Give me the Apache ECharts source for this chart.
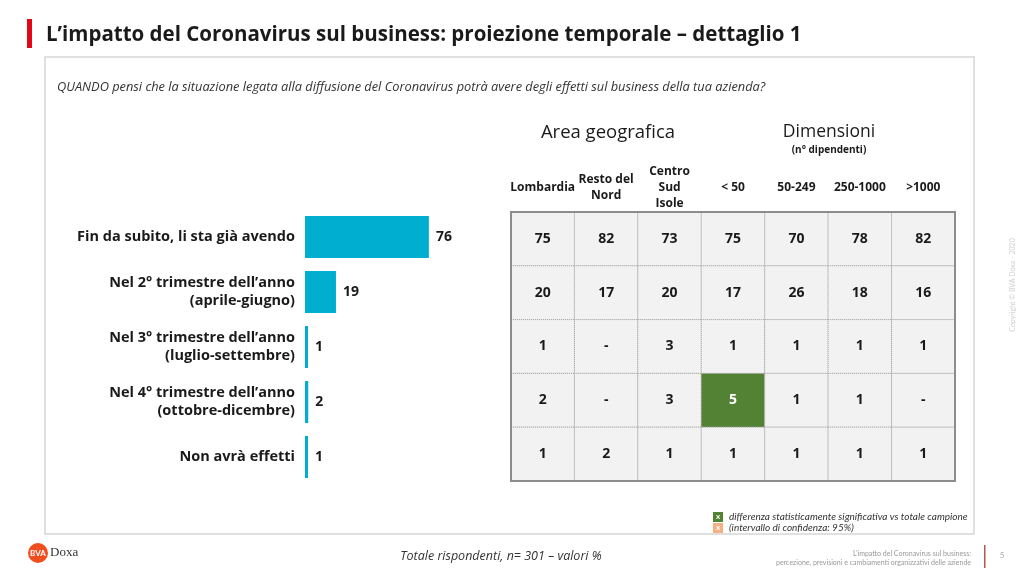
<!DOCTYPE html>
<html>
<head>
<meta charset="utf-8">
<script src="https://cdn.jsdelivr.net/npm/echarts@6/dist/echarts.min.js"></script>
<style>
html,body{margin:0;padding:0;background:#fff;}
#c{width:1024px;height:576px;}
</style>
</head>
<body>
<div id="c"></div>
<script>
// ---- data ----
var categories = [
  'Fin da subito, li sta già avendo',
  'Nel 2° trimestre dell’anno\n(aprile-giugno)',
  'Nel 3° trimestre dell’anno\n(luglio-settembre)',
  'Nel 4° trimestre dell’anno\n(ottobre-dicembre)',
  'Non avrà effetti'
];
var totalValues = [76, 19, 1, 2, 1];
var segments = ['Lombardia', 'Resto del\nNord', 'Centro\nSud\nIsole', '< 50', '50-249', '250-1000', '>1000'];
var row1 = [75, 82, 73, 75, 70, 78, 82];
var row2 = [20, 17, 20, 17, 26, 18, 16];
var row3 = [1, '-', 3, 1, 1, 1, 1];
var row4 = [2, '-', 3, 5, 1, 1, '-'];
var row5 = [1, 2, 1, 1, 1, 1, 1];
var tableRows = [row1, row2, row3, row4, row5];
var significantCells = [[3, 3]]; // [column, row]

// ---- build ----
var FONT = '"Open Sans", Lato, sans-serif';
var FONT2 = 'Lato, "Open Sans", sans-serif';
var tableData = [];
tableRows.forEach(function (r, ri) {
  r.forEach(function (v, ci) {
    var sig = significantCells.some(function (s) { return s[0] === ci && s[1] === ri; }) ? 1 : 0;
    tableData.push([ci, ri, String(v), sig]);
  });
});

var chart = echarts.init(document.getElementById('c'));
var TL = 511, TT = 212, TW = 444, TH = 269;

chart.setOption({
  animation: false,
  textStyle: { fontFamily: FONT },
  grid: [
    { left: 305, top: 209.5, width: 163, height: 275 },
    { left: TL, top: TT, width: TW, height: TH, show: true, backgroundColor: '#f2f2f2', borderWidth: 0 }
  ],
  xAxis: [
    { gridIndex: 0, type: 'value', min: 0, max: 100, show: false },
    {
      gridIndex: 1, type: 'category', data: segments, position: 'top',
      axisLine: { show: false }, axisTick: { show: false },
      axisLabel: {
        interval: 0, margin: 24, verticalAlign: 'middle', lineHeight: 16,
        fontFamily: FONT, fontWeight: 'bold', fontSize: 12, color: '#1a1a1a'
      }
    }
  ],
  yAxis: [
    {
      gridIndex: 0, type: 'category', data: categories, inverse: true,
      axisLine: { show: false }, axisTick: { show: false },
      axisLabel: {
        margin: 10, align: 'right', lineHeight: 18,
        fontFamily: FONT, fontWeight: 'bold', fontSize: 14.5, color: '#1a1a1a'
      }
    },
    { gridIndex: 1, type: 'category', data: ['a', 'b', 'c', 'd', 'e'], inverse: true, show: false }
  ],
  series: [
    {
      type: 'bar', xAxisIndex: 0, yAxisIndex: 0, data: totalValues,
      barWidth: 42, barMinHeight: 3,
      itemStyle: { color: '#00AECF' },
      label: {
        show: true, position: 'right', distance: 7,
        fontFamily: FONT, fontWeight: 'bold', fontSize: 14, color: '#1a1a1a'
      }
    },
    {
      type: 'custom', xAxisIndex: 1, yAxisIndex: 1, data: tableData,
      renderItem: function (params, api) {
        var p = api.coord([api.value(0), api.value(1)]);
        var s = api.size([1, 1]);
        var d = tableData[params.dataIndex];
        var sig = d[3] === 1;
        return {
          type: 'group',
          children: [
            {
              type: 'rect',
              shape: { x: p[0] - s[0] / 2, y: p[1] - s[1] / 2, width: s[0], height: s[1] },
              style: { fill: sig ? '#548235' : '#f2f2f2', stroke: '#a6a6a6', lineWidth: 1, lineDash: [1, 1] }
            },
            {
              type: 'text',
              style: {
                text: d[2], x: p[0], y: p[1], align: 'center', verticalAlign: 'middle',
                fill: sig ? '#ffffff' : '#1a1a1a',
                font: 'bold 14px ' + FONT
              }
            }
          ]
        };
      }
    }
  ],
  graphic: [
    // title
    { type: 'rect', left: 27, top: 19, shape: { width: 5, height: 29 }, style: { fill: '#e30613' } },
    { type: 'text', style: { text: 'L’impatto del Coronavirus sul business: proiezione temporale – dettaglio 1', x: 46, y: 35, verticalAlign: 'middle', font: 'bold 20.5px ' + FONT, fill: '#1a1a1a' } },
    // panel
    { type: 'rect', shape: { x: 45, y: 57, width: 929, height: 477 }, style: { fill: 'none', stroke: '#d6d6d6', lineWidth: 1.5 }, z: -1 },
    { type: 'text', style: { text: 'QUANDO pensi che la situazione legata alla diffusione del Coronavirus potrà avere degli effetti sul business della tua azienda?', x: 57, y: 87, verticalAlign: 'middle', font: 'italic 12.8px ' + FONT, fill: '#333' } },
    // table group headers
    { type: 'text', style: { text: 'Area geografica', x: 608, y: 133, align: 'center', verticalAlign: 'middle', font: '18.5px ' + FONT, fill: '#1a1a1a' } },
    { type: 'text', style: { text: 'Dimensioni', x: 829, y: 132, align: 'center', verticalAlign: 'middle', font: '17.5px ' + FONT, fill: '#1a1a1a' } },
    { type: 'text', style: { text: '(n° dipendenti)', x: 829, y: 150, align: 'center', verticalAlign: 'middle', font: 'bold 10px ' + FONT, fill: '#1a1a1a' } },
    // table frame
    { type: 'rect', shape: { x: TL, y: TT, width: TW, height: TH }, style: { fill: 'none', stroke: '#8c8c8c', lineWidth: 2 }, z: 100 },
    // legend
    { type: 'rect', shape: { x: 713, y: 512, width: 10, height: 10 }, style: { fill: '#548235' } },
    { type: 'text', style: { text: 'x', x: 718, y: 516.5, align: 'center', verticalAlign: 'middle', font: 'bold 8px ' + FONT2, fill: '#fff' } },
    { type: 'rect', shape: { x: 713, y: 523, width: 10, height: 10 }, style: { fill: '#f4b183' } },
    { type: 'text', style: { text: 'x', x: 718, y: 527.5, align: 'center', verticalAlign: 'middle', font: 'bold 8px ' + FONT2, fill: '#fff' } },
    { type: 'text', style: { text: 'differenza statisticamente significativa vs totale campione', x: 729, y: 517, verticalAlign: 'middle', font: 'italic 10px ' + FONT2, fill: '#333' } },
    { type: 'text', style: { text: '(intervallo di confidenza: 95%)', x: 729, y: 528, verticalAlign: 'middle', font: 'italic 10px ' + FONT2, fill: '#333' } },
    // footer
    { type: 'circle', shape: { cx: 38, cy: 553, r: 10 }, style: { fill: '#f04e1f' } },
    { type: 'text', style: { text: 'BVA', x: 38, y: 553.5, align: 'center', verticalAlign: 'middle', font: 'bold 8px ' + FONT2, fill: '#fff' } },
    { type: 'text', style: { text: 'Doxa', x: 50, y: 553, verticalAlign: 'middle', font: '13px "Liberation Serif", serif', fill: '#333' } },
    { type: 'text', style: { text: 'Totale rispondenti, n= 301 – valori %', x: 501, y: 556, align: 'center', verticalAlign: 'middle', font: 'italic 12.5px ' + FONT, fill: '#333' } },
    { type: 'text', style: { text: 'L’impatto del Coronavirus sul business:', x: 971, y: 554, align: 'right', verticalAlign: 'middle', font: '7px ' + FONT2, fill: '#999' } },
    { type: 'text', style: { text: 'percezione, previsioni e cambiamenti organizzativi delle aziende', x: 971, y: 563, align: 'right', verticalAlign: 'middle', font: '7px ' + FONT2, fill: '#999' } },
    { type: 'rect', shape: { x: 984, y: 545, width: 1.5, height: 23 }, style: { fill: '#c0504d' } },
    { type: 'text', style: { text: '5', x: 1002, y: 555, align: 'center', verticalAlign: 'middle', font: '8px ' + FONT2, fill: '#aaa' } },
    { type: 'text', x: 1013, y: 285, rotation: Math.PI / 2, style: { text: 'Copyright © BVA Doxa - 2020', x: 0, y: 0, align: 'center', verticalAlign: 'middle', font: '7px ' + FONT2, fill: '#d0d0d0' } }
  ]
});
</script>
</body>
</html>
